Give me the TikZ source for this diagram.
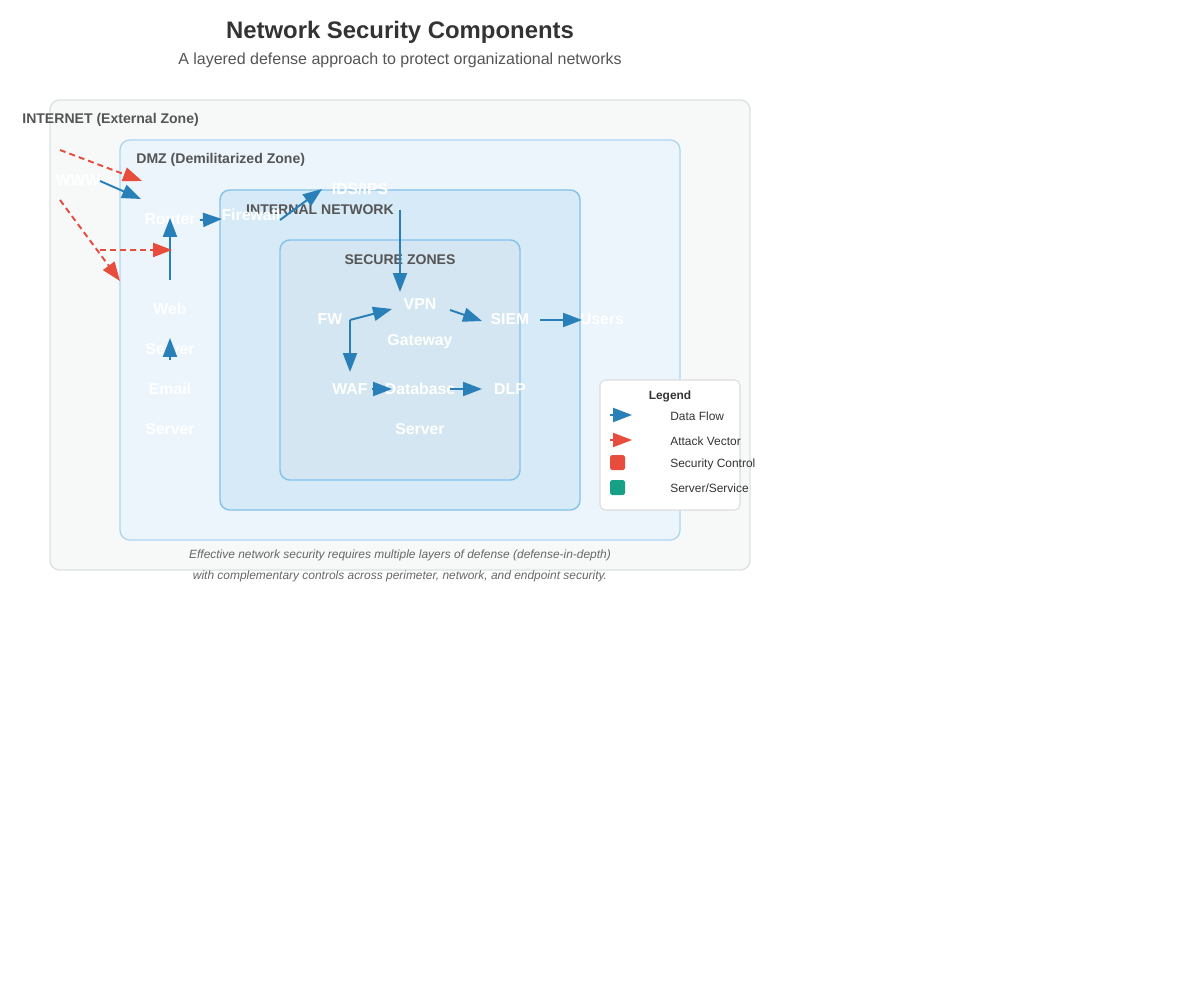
\documentclass[tikz,border=0pt]{standalone}
\usepackage{fontspec}
\setmainfont{Liberation Sans}
\usepackage{tikz}
\usetikzlibrary{arrows.meta, positioning}
\definecolor{flowblue}{RGB}{41,128,185}
\definecolor{attackred}{RGB}{231,76,60}
\definecolor{servgreen}{RGB}{22,160,133}
\definecolor{txtdark}{RGB}{51,51,51}
\definecolor{txtgray}{RGB}{85,85,85}
\definecolor{notegray}{RGB}{102,102,102}
\definecolor{inetfill}{RGB}{247,249,249}
\definecolor{inetdraw}{RGB}{221,225,226}
\definecolor{dmzfill}{RGB}{235,245,251}
\definecolor{dmzdraw}{RGB}{174,214,241}
\definecolor{intfill}{RGB}{214,234,248}
\definecolor{intdraw}{RGB}{133,193,233}
\definecolor{secfill}{RGB}{212,230,241}
\definecolor{legdraw}{RGB}{221,221,221}
\tikzset{
  zone/.style={rounded corners=5.5pt, line width=0.8pt},
  zonelabel/.style={font=\fontsize{8}{9.6}\selectfont\bfseries, text=txtgray},
  comp/.style={font=\fontsize{9}{10.8}\selectfont\bfseries, text=white, inner sep=0pt},
  flow/.style={-{Triangle[length=10.8pt, width=8pt]}, line width=1.1pt, color=flowblue},
  attack/.style={-{Triangle[length=10.8pt, width=8pt]}, line width=1.1pt,
    color=attackred, dash pattern=on 3.4pt off 2.3pt},
  legtext/.style={font=\fontsize{6.8}{8}\selectfont, text=txtdark, anchor=west, inner sep=0pt},
  note/.style={font=\fontsize{6.8}{8}\selectfont\itshape, text=notegray}
}
\begin{document}
\begin{tikzpicture}[x=0.02cm, y=-0.02cm]
  \useasboundingbox (0,0) rectangle (1200,1000);

  % Title
  \node[font=\fontsize{13.6}{16}\selectfont\bfseries, text=txtdark] (title) at (400,32) {Network Security Components};
  \node[font=\fontsize{9.1}{11}\selectfont, text=txtgray] (subtitle) at (400,60) {A layered defense approach to protect organizational networks};

  % Zones
  \draw[zone, fill=inetfill, draw=inetdraw] (50,100) rectangle (750,570);
  \draw[zone, fill=dmzfill, draw=dmzdraw] (120,140) rectangle (680,540);
  \draw[zone, fill=intfill, draw=intdraw] (220,190) rectangle (580,510);
  \draw[zone, fill=secfill, draw=intdraw] (280,240) rectangle (520,480);

  \node[zonelabel, anchor=west, inner sep=0pt] (inet) at (22,120) {INTERNET (External Zone)};
  \node[zonelabel, anchor=west, inner sep=0pt] (dmz) at (136,160) {DMZ (Demilitarized Zone)};
  \node[zonelabel] (internal) at (320,210) {INTERNAL NETWORK};
  \node[zonelabel] (secure) at (400,260) {SECURE ZONES};

  % Components
  \node[comp] (www) at (78,180) {WWW};
  \node[comp] (router) at (170,219) {Router};
  \node[comp] (firewall) at (251,215) {Firewall};
  \node[comp] (ids) at (360,189) {IDS/IPS};
  \node[comp] (web) at (170,309) {Web};
  \node[comp] (websrv) at (170,349) {Server};
  \node[comp] (email) at (170,389) {Email};
  \node[comp] (mailsrv) at (170,429) {Server};
  \node[comp] (fw) at (330,319) {FW};
  \node[comp] (vpn) at (420,304) {VPN};
  \node[comp] (gateway) at (420,342) {Gateway};
  \node[comp] (siem) at (510,319) {SIEM};
  \node[comp] (users) at (602,319) {Users};
  \node[comp] (waf) at (350,389) {WAF};
  \node[comp] (db) at (420,389) {Database};
  \node[comp] (dbsrv) at (420,429) {Server};
  \node[comp] (dlp) at (510,389) {DLP};

  % Flow end points
  \coordinate (www_s) at (100,181);  \coordinate (www_t) at (141,199);
  \coordinate (rt_s) at (170,280);   \coordinate (rt_t) at (170,218);
  \coordinate (rf_s) at (200,220);   \coordinate (rf_t) at (222,219);
  \coordinate (fi_s) at (280,220);   \coordinate (fi_t) at (322,189);
  \coordinate (iv_s) at (400,210);   \coordinate (iv_t) at (400,292);
  \coordinate (fw_s) at (350,320);   \coordinate (fv_t) at (392,309);
  \coordinate (fwa_t) at (350,372);
  \coordinate (vs_s) at (450,310);   \coordinate (vs_t) at (482,321);
  \coordinate (su_s) at (540,320);   \coordinate (su_t) at (582,320);
  \coordinate (wd_s) at (372,389);   \coordinate (wd_t) at (392,389);
  \coordinate (dd_s) at (450,389);   \coordinate (dd_t) at (482,389);
  \coordinate (ws_s) at (170,360);   \coordinate (ws_t) at (170,338);

  % Data flow
  \draw[flow] (www_s) -- (www_t);
  \draw[flow] (rt_s) -- (rt_t);
  \draw[flow] (rf_s) -- (rf_t);
  \draw[flow] (fi_s) -- (fi_t);
  \draw[flow] (iv_s) -- (iv_t);
  \draw[flow] (fw_s) -- (fv_t);
  \draw[flow] (fw_s) -- (fwa_t);
  \draw[flow] (vs_s) -- (vs_t);
  \draw[flow] (su_s) -- (su_t);
  \draw[flow] (wd_s) -- (wd_t);
  \draw[flow] (dd_s) -- (dd_t);
  \draw[flow] (ws_s) -- (ws_t);

  % Attack vectors
  \coordinate (atk1_s) at (60,150);  \coordinate (atk1_t) at (142,181);
  \coordinate (atk2_s) at (60,200);  \coordinate (atk2_t) at (120,281);
  \coordinate (atk3_s) at (100,250); \coordinate (atk3_t) at (172,250);
  \draw[attack] (atk1_s) -- (atk1_t);
  \draw[attack] (atk2_s) -- (atk2_t);
  \draw[attack] (atk3_s) -- (atk3_t);

  % Legend
  \draw[fill=white, draw=legdraw, rounded corners=3pt, line width=0.6pt] (600,380) rectangle (740,510);
  \node[font=\fontsize{6.8}{8}\selectfont\bfseries, text=txtdark] (legend) at (670,396) {Legend};
  \coordinate (lf_s) at (610,415); \coordinate (lf_t) at (632,415);
  \coordinate (la_s) at (610,440); \coordinate (la_t) at (632,440);
  \draw[flow] (lf_s) -- (lf_t);
  \draw[attack] (la_s) -- (la_t);
  \fill[attackred, rounded corners=1pt] (610,455) rectangle (625,470);
  \fill[servgreen, rounded corners=1pt] (610,480) rectangle (625,495);
  \node[legtext] (lgflow) at (670,416) {Data Flow};
  \node[legtext] (lgattack) at (670,441) {Attack Vector};
  \node[legtext] (lgctrl) at (670,464) {Security Control};
  \node[legtext] (lgserv) at (670,488) {Server/Service};

  % Note
  \node[note] (note1) at (400,555) {Effective network security requires multiple layers of defense (defense-in-depth)};
  \node[note] (note2) at (400,576) {with complementary controls across perimeter, network, and endpoint security.};
\end{tikzpicture}
\end{document}
